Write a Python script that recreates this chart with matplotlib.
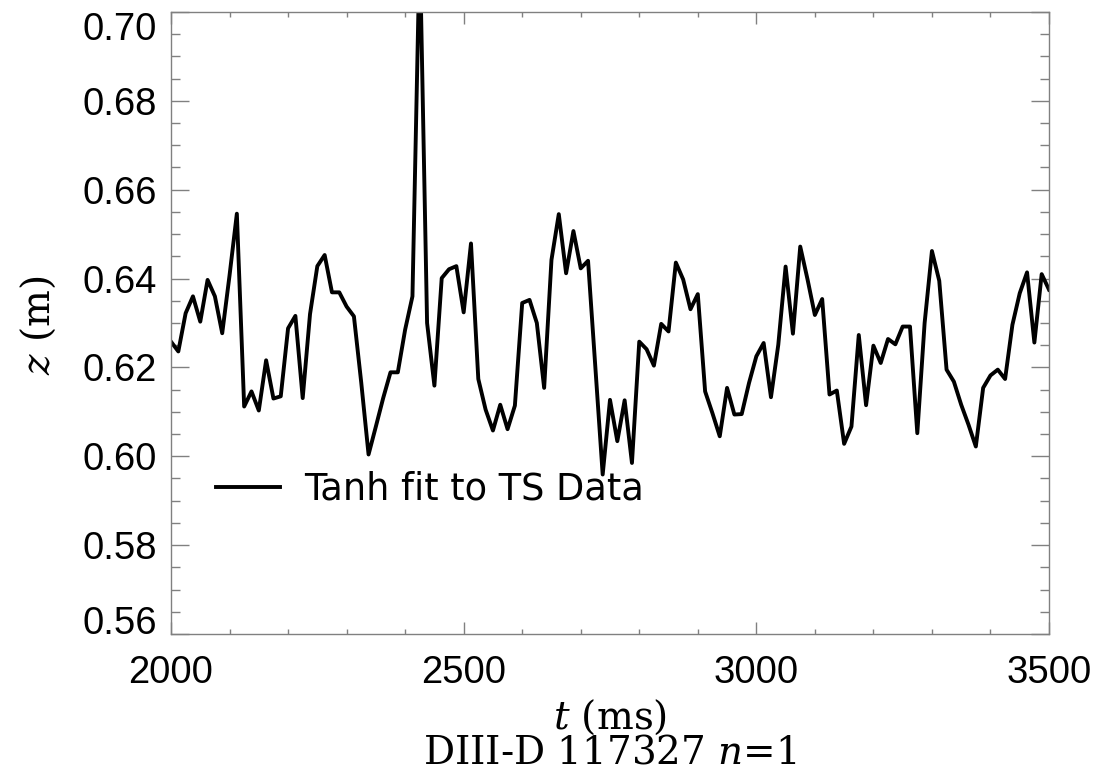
import numpy as np
import matplotlib
matplotlib.use("Agg")
import matplotlib.pyplot as plt
from matplotlib.ticker import MultipleLocator

# Thomson scattering tanh-fit pedestal position, sampled every 12.5 ms
t_start = 2000.0
dt = 12.5
z_fit = [
    0.6258, 0.6236, 0.6322, 0.6360, 0.6303, 0.6397, 0.6360, 0.6277, 0.6407, 0.6546,
    0.6112, 0.6146, 0.6103, 0.6216, 0.6130, 0.6135, 0.6288, 0.6316, 0.6131, 0.6320,
    0.6428, 0.6453, 0.6369, 0.6369, 0.6337, 0.6315, 0.6166, 0.6004, 0.6067, 0.6131,
    0.6189, 0.6189, 0.6285, 0.6360, 0.7150, 0.6300, 0.6159, 0.6401, 0.6421, 0.6428,
    0.6324, 0.6479, 0.6174, 0.6105, 0.6058, 0.6116, 0.6061, 0.6114, 0.6345, 0.6352,
    0.6300, 0.6154, 0.6442, 0.6545, 0.6412, 0.6507, 0.6423, 0.6440, 0.6200, 0.5959,
    0.6127, 0.6034, 0.6126, 0.5985, 0.6258, 0.6241, 0.6204, 0.6298, 0.6281, 0.6436,
    0.6398, 0.6331, 0.6365, 0.6146, 0.6097, 0.6045, 0.6154, 0.6094, 0.6095, 0.6165,
    0.6225, 0.6255, 0.6133, 0.6251, 0.6427, 0.6276, 0.6472, 0.6398, 0.6318, 0.6354,
    0.6139, 0.6148, 0.6028, 0.6067, 0.6273, 0.6115, 0.6249, 0.6210, 0.6264, 0.6252,
    0.6292, 0.6292, 0.6052, 0.6300, 0.6462, 0.6395, 0.6195, 0.6168, 0.6116, 0.6071,
    0.6022, 0.6154, 0.6182, 0.6195, 0.6174, 0.6296, 0.6367, 0.6414, 0.6256, 0.6410,
    0.6375,
]
t_ms = t_start + dt * np.arange(len(z_fit))

x_ticks = [2000, 2500, 3000, 3500]
y_ticks = [0.56, 0.58, 0.60, 0.62, 0.64, 0.66, 0.68, 0.70]
legend_label = "Tanh fit to TS Data"

plt.rcParams["mathtext.fontset"] = "dejavuserif"

fig = plt.figure(figsize=(11.13, 7.76), dpi=100)
ax = fig.add_axes([171 / 1113, 142 / 776, 878 / 1113, 622 / 776])

ax.plot(t_ms, z_fit, color="black", lw=2.8, label=legend_label)

ax.set_xlim(2000, 3500)
ax.set_ylim(0.56, 0.70)
ax.set_xticks(x_ticks)
ax.set_yticks(y_ticks)
ax.xaxis.set_minor_locator(MultipleLocator(100))
ax.yaxis.set_minor_locator(MultipleLocator(0.005))
ax.set_xticklabels([str(v) for v in x_ticks])
ax.set_yticklabels(["%.2f" % v for v in y_ticks])

gray = "#808080"
for s in ax.spines.values():
    s.set_color(gray)
    s.set_linewidth(1.0)
ax.tick_params(axis="both", which="both", direction="in", color=gray, width=1.0,
               top=True, right=True)
ax.tick_params(axis="y", which="major", length=13, pad=10)
ax.tick_params(axis="y", which="minor", length=6.5)
ax.tick_params(axis="x", which="major", length=8.6, pad=15)
ax.tick_params(axis="x", which="minor", length=3.6)
for lab in ax.get_xticklabels() + ax.get_yticklabels():
    lab.set_fontfamily("Liberation Sans")
    lab.set_fontsize(27.5)
ylabs = ax.get_yticklabels()
ylabs[0].set_va("baseline")
ylabs[-1].set_va("top")

leg = ax.legend(loc="center left", bbox_to_anchor=(45 / 878, 145 / 622),
                frameon=False, borderpad=0, borderaxespad=0,
                handlelength=1.75, handletextpad=0.65,
                prop={"family": "DejaVu Sans", "size": 26.5})

serif_kw = dict(family="DejaVu Serif", fontsize=28)
fig.text(610 / 1113, 1 - 717 / 776, r"$t$ (ms)", ha="center", va="center", **serif_kw)
fig.text(610 / 1113, 1 - 753 / 776, r"DIII-D 117327 $n$=1",
         ha="center", va="center", **serif_kw)
fig.text(38 / 1113, 1 - 325 / 776, r"$z$ (m)", ha="center", va="center", rotation=90,
         **serif_kw)

fig.savefig("out.png", dpi=100)
